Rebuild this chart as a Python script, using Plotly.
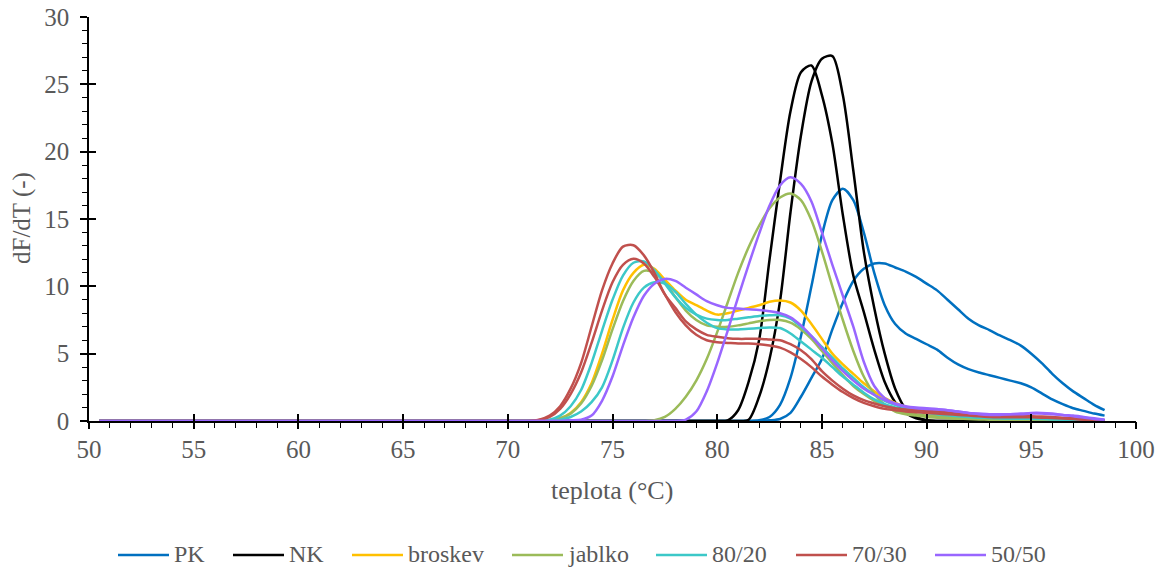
import plotly.graph_objects as go

# Temperature grid (°C)
teplota = [50.5, 55, 60, 65, 70,
           70.5, 71, 71.5, 72, 72.5, 73, 73.5, 74, 74.5, 75,
           75.5, 76, 76.5, 77, 77.5, 78, 78.5, 79, 79.5, 80,
           80.5, 81, 81.5, 82, 82.5, 83, 83.5, 84, 84.5, 85,
           85.5, 86, 86.5, 87, 87.5, 88, 88.5, 89, 89.5, 90,
           90.5, 91, 91.5, 92, 92.5, 93, 93.5, 94, 94.5, 95,
           95.5, 96, 96.5, 97, 97.5, 98, 98.5]

# dF/dT melt curves, two replicates per sample
pk_1 = [0, 0, 0, 0, 0,
        0, 0, 0, 0, 0, 0, 0, 0, 0, 0,
        0, 0, 0, 0, 0, 0, 0, 0, 0, 0,
        0, 0, 0, 0.05, 0.3, 1.2, 3.2, 6.3, 10.0, 13.8,
        16.4, 17.25, 16.4, 14.0, 11.0, 8.6, 7.2, 6.5, 6.1, 5.7,
        5.3, 4.7, 4.2, 3.85, 3.6, 3.4, 3.2, 3.0, 2.8, 2.5,
        2.05, 1.6, 1.25, 0.95, 0.75, 0.55, 0.4]
pk_2 = [0, 0, 0, 0, 0,
        0, 0, 0, 0, 0, 0, 0, 0, 0, 0,
        0, 0, 0, 0, 0, 0, 0, 0, 0, 0,
        0, 0, 0, 0, 0.05, 0.15, 0.6, 1.8, 3.2, 4.6,
        6.8, 8.8, 10.4, 11.3, 11.7, 11.7, 11.4, 11.1, 10.7, 10.2,
        9.7, 9.0, 8.3, 7.6, 7.1, 6.75, 6.35, 6.0, 5.6, 5.0,
        4.3, 3.5, 2.8, 2.2, 1.7, 1.2, 0.8]

nk_1 = [0, 0, 0, 0, 0,
        0, 0, 0, 0, 0, 0, 0, 0, 0, 0,
        0, 0, 0, 0, 0, 0, 0, 0, 0, 0,
        0.05, 0.8, 2.9, 6.0, 12.0, 17.8, 23.0, 25.9, 26.4, 24.2,
        20.6, 15.3, 10.8, 8.1, 5.3, 2.9, 1.4, 0.6, 0.2, 0.05,
        0, 0, 0, 0, 0, 0, 0, 0, 0, 0,
        0, 0, 0, 0, 0, 0, 0]
nk_2 = [0, 0, 0, 0, 0,
        0, 0, 0, 0, 0, 0, 0, 0, 0, 0,
        0, 0, 0, 0, 0, 0, 0, 0, 0, 0,
        0, 0, 0.1, 1.8, 4.6, 8.9, 15.5, 21.2, 25.2, 26.9,
        27.1, 24.2, 18.6, 12.6, 8.4, 5.0, 2.4, 0.9, 0.3, 0.05,
        0, 0, 0, 0, 0, 0, 0, 0, 0, 0,
        0, 0, 0, 0, 0, 0, 0]

broskev_1 = [0, 0, 0, 0, 0,
             0, 0, 0, 0.05, 0.2, 0.6, 1.4, 2.8, 5.0, 7.5,
             9.7, 11.0, 11.6, 11.3, 10.5, 9.7, 9.0, 8.6, 8.2, 7.9,
             8.0, 8.2, 8.4, 8.6, 8.85, 8.95, 8.8, 8.2, 7.2, 6.1,
             5.0, 4.2, 3.5, 2.8, 2.2, 1.7, 1.35, 1.05, 0.85, 0.65,
             0.5, 0.4, 0.32, 0.26, 0.22, 0.2, 0.18, 0.16, 0.15, 0.14,
             0.12, 0.1, 0.08, 0.06, 0.05, 0.04, 0.03]

jablko_1 = [0, 0, 0, 0, 0,
            0, 0, 0, 0.05, 0.2, 0.55, 1.3, 2.6, 4.5, 6.8,
            8.9, 10.4, 11.15, 11.0, 10.3, 9.2, 8.2, 7.5, 7.1, 7.0,
            7.0, 7.1, 7.25, 7.4, 7.5, 7.5, 7.3, 6.8, 6.1, 5.2,
            4.3, 3.4, 2.6, 2.0, 1.5, 1.1, 0.8, 0.6, 0.5, 0.4,
            0.35, 0.3, 0.25, 0.2, 0.18, 0.15, 0.13, 0.12, 0.1, 0.1,
            0.08, 0.07, 0.06, 0.05, 0.04, 0.03, 0.02]
jablko_2 = [0, 0, 0, 0, 0,
            0, 0, 0, 0, 0, 0, 0, 0, 0, 0,
            0, 0, 0, 0.05, 0.3, 0.9, 1.8, 3.0, 4.6, 6.6,
            8.8, 11.0, 12.9, 14.5, 15.8, 16.6, 16.9, 16.4, 14.9, 12.6,
            10.0, 7.5, 5.2, 3.3, 2.0, 1.2, 0.7, 0.5, 0.4, 0.3,
            0.25, 0.2, 0.17, 0.15, 0.12, 0.1, 0.1, 0.08, 0.08, 0.07,
            0.06, 0.05, 0.05, 0.04, 0.03, 0.02, 0.02]

mix80_1 = [0, 0, 0, 0, 0,
           0, 0, 0, 0.1, 0.4, 1.1, 2.3, 4.3, 6.7, 9.0,
           10.8, 11.75, 11.85, 11.2, 10.2, 9.2, 8.4, 7.9, 7.6, 7.5,
           7.5, 7.6, 7.7, 7.8, 7.85, 7.85, 7.6, 7.0, 6.3, 5.5,
           4.7, 3.9, 3.2, 2.5, 1.95, 1.5, 1.2, 0.95, 0.8, 0.7,
           0.6, 0.5, 0.42, 0.35, 0.3, 0.25, 0.22, 0.2, 0.2, 0.2,
           0.18, 0.15, 0.12, 0.1, 0.08, 0.05, 0.03]
mix80_2 = [0, 0, 0, 0, 0,
           0, 0, 0, 0, 0.1, 0.3, 0.7, 1.4, 2.5, 4.5,
           6.9, 8.8, 9.9, 10.3, 10.2, 9.6, 8.7, 7.9, 7.3, 6.9,
           6.8, 6.8, 6.85, 6.9, 6.95, 6.9, 6.5, 5.9, 5.3, 4.7,
           4.0, 3.3, 2.7, 2.1, 1.6, 1.25, 1.0, 0.8, 0.7, 0.6,
           0.5, 0.42, 0.35, 0.3, 0.25, 0.22, 0.2, 0.18, 0.17, 0.16,
           0.14, 0.12, 0.1, 0.08, 0.06, 0.04, 0.03]

mix70_1 = [0, 0, 0, 0, 0,
           0, 0, 0.1, 0.4, 1.1, 2.4, 4.3, 7.0, 9.7, 11.7,
           12.95, 13.05, 12.3, 11.0, 9.4, 8.4, 7.4, 6.8, 6.4, 6.25,
           6.15, 6.1, 6.1, 6.1, 6.05, 6.0, 5.7, 5.25, 4.6, 3.7,
           3.0, 2.4, 1.9, 1.55, 1.3, 1.1, 0.95, 0.85, 0.8, 0.75,
           0.7, 0.65, 0.58, 0.5, 0.45, 0.4, 0.37, 0.35, 0.35, 0.35,
           0.33, 0.3, 0.25, 0.2, 0.15, 0.1, 0.05]
mix70_2 = [0, 0, 0, 0, 0,
           0, 0, 0.08, 0.3, 0.9, 2.0, 3.6, 5.8, 8.2, 10.3,
           11.6, 12.05, 11.7, 10.7, 9.4, 8.1, 7.1, 6.4, 6.0, 5.85,
           5.8, 5.75, 5.75, 5.7, 5.6, 5.45, 5.1, 4.6, 4.0, 3.3,
           2.7, 2.15, 1.7, 1.35, 1.1, 0.9, 0.8, 0.7, 0.65, 0.6,
           0.55, 0.5, 0.45, 0.4, 0.35, 0.3, 0.28, 0.27, 0.27, 0.27,
           0.25, 0.22, 0.18, 0.14, 0.1, 0.07, 0.04]

mix50_1 = [0, 0, 0, 0, 0,
           0, 0, 0, 0, 0, 0.05, 0.1, 0.4, 1.5, 3.3,
           5.6, 7.7, 9.3, 10.2, 10.55, 10.4, 9.9, 9.4, 8.9, 8.6,
           8.4, 8.35, 8.3, 8.25, 8.15, 8.0, 7.7, 7.1, 6.3, 5.4,
           4.5, 3.7, 3.0, 2.4, 1.95, 1.55, 1.25, 1.05, 0.95, 0.9,
           0.85, 0.8, 0.7, 0.6, 0.5, 0.45, 0.45, 0.5, 0.5, 0.55,
           0.55, 0.5, 0.45, 0.35, 0.25, 0.15, 0.1]
mix50_2 = [0, 0, 0, 0, 0,
           0, 0, 0, 0, 0, 0, 0, 0, 0, 0,
           0, 0, 0, 0, 0, 0, 0.1, 0.7, 2.2, 4.3,
           6.7, 9.2, 11.6, 13.9, 16.0, 17.5, 18.1, 17.6, 16.3, 14.0,
           11.6, 9.3, 7.0, 4.4, 2.6, 1.7, 1.3, 1.1, 1.0, 0.95,
           0.9, 0.8, 0.7, 0.6, 0.55, 0.5, 0.5, 0.5, 0.55, 0.6,
           0.6, 0.55, 0.45, 0.4, 0.3, 0.2, 0.1]

samples = [
    ("PK", "#0070C0", [pk_1, pk_2]),
    ("NK", "#000000", [nk_1, nk_2]),
    ("broskev", "#FFC000", [broskev_1]),
    ("jablko", "#9BBB59", [jablko_1, jablko_2]),
    ("80/20", "#3CC8C8", [mix80_1, mix80_2]),
    ("70/30", "#C0504D", [mix70_1, mix70_2]),
    ("50/50", "#9966FF", [mix50_1, mix50_2]),
]

FONT = "Liberation Serif, Times New Roman, serif"
GREY = "#595959"
FS = 25

# Figure geometry (px) used to place the legend row below the plot
W, H = 1163, 571
ML, MR, MT, MB = 89, 27, 17, 150
PW, PH = W - ML - MR, H - MT - MB


def px_to_paper(px, py):
    return (px - ML) / PW, (H - MB - py) / PH


fig = go.Figure()
for name, color, reps in samples:
    for y in reps:
        fig.add_trace(go.Scatter(
            x=teplota, y=y, mode="lines", name=name, showlegend=False,
            line=dict(color=color, width=2.5, shape="spline", smoothing=0.8),
            hoverinfo="skip",
        ))

axis_common = dict(showgrid=False, zeroline=False, linecolor="black", linewidth=1.5,
                   tickcolor="black", tickwidth=1.5, automargin=False,
                   tickfont=dict(family=FONT, size=FS, color=GREY))
overlay_common = dict(dtick=5, showticklabels=False, showline=False, showgrid=False,
                      zeroline=False, tickcolor="black", tickwidth=1.5, ticklen=7)

# Legend row: a short coloured line followed by the sample name
legend_x = [118, 233, 352, 512, 656, 796, 935]
legend_line_len = 51
legend_y = 554
shapes, annotations = [], []
for (name, color, _), lx in zip(samples, legend_x):
    x0, y0 = px_to_paper(lx, legend_y + 1)
    x1, _ = px_to_paper(lx + legend_line_len, legend_y + 1)
    shapes.append(dict(type="line", xref="paper", yref="paper", x0=x0, x1=x1, y0=y0, y1=y0,
                       line=dict(color=color, width=2.5)))
    tx, ty = px_to_paper(lx + legend_line_len + 3, legend_y)
    annotations.append(dict(text=name, xref="paper", yref="paper", x=tx, y=ty,
                            xanchor="left", yanchor="middle", showarrow=False,
                            font=dict(family=FONT, size=24, color=GREY)))

tx, ty = px_to_paper(612, 490)
annotations.append(dict(text="teplota (°C)", xref="paper", yref="paper", x=tx, y=ty,
                        xanchor="center", yanchor="middle", showarrow=False,
                        font=dict(family=FONT, size=26, color=GREY)))
tx, ty = px_to_paper(22, 218)
annotations.append(dict(text="dF/dT (-)", xref="paper", yref="paper", x=tx, y=ty,
                        xanchor="center", yanchor="middle", showarrow=False, textangle=-90,
                        font=dict(family=FONT, size=FS, color=GREY)))

fig.update_layout(
    width=W, height=H,
    margin=dict(l=ML, r=MR, t=MT, b=MB),
    paper_bgcolor="white", plot_bgcolor="white",
    font=dict(family=FONT, size=FS, color=GREY),
    showlegend=False,
    xaxis=dict(range=[50, 100], dtick=5, ticks="outside", ticklen=3, showline=True,
               ticklabelstandoff=2,
               minor=dict(dtick=1, ticks="outside", ticklen=5, tickwidth=1.2, tickcolor="black"),
               **axis_common),
    yaxis=dict(range=[0, 30], dtick=5, ticks="outside", ticklen=7, showline=True,
               ticklabelstandoff=6,
               minor=dict(dtick=1, ticks="outside", ticklen=5, tickwidth=1.2, tickcolor="black"),
               **axis_common),
    # overlay axes: inward and outward halves of the crossing major ticks
    xaxis2=dict(range=[50, 100], ticks="inside", overlaying="x", anchor="y", side="bottom",
                **overlay_common),
    xaxis3=dict(range=[50, 100], ticks="outside", overlaying="x", anchor="y", side="bottom",
                **overlay_common),
    yaxis2=dict(range=[0, 30], ticks="inside", overlaying="y", anchor="x", side="left",
                **overlay_common),
    shapes=shapes,
    annotations=annotations,
)

# Empty traces that attach the overlay axes
fig.add_trace(go.Scatter(x=[None], y=[None], xaxis="x2", yaxis="y2",
                         showlegend=False, hoverinfo="skip"))
fig.add_trace(go.Scatter(x=[None], y=[None], xaxis="x3", yaxis="y",
                         showlegend=False, hoverinfo="skip"))

fig.write_html("out.html")
